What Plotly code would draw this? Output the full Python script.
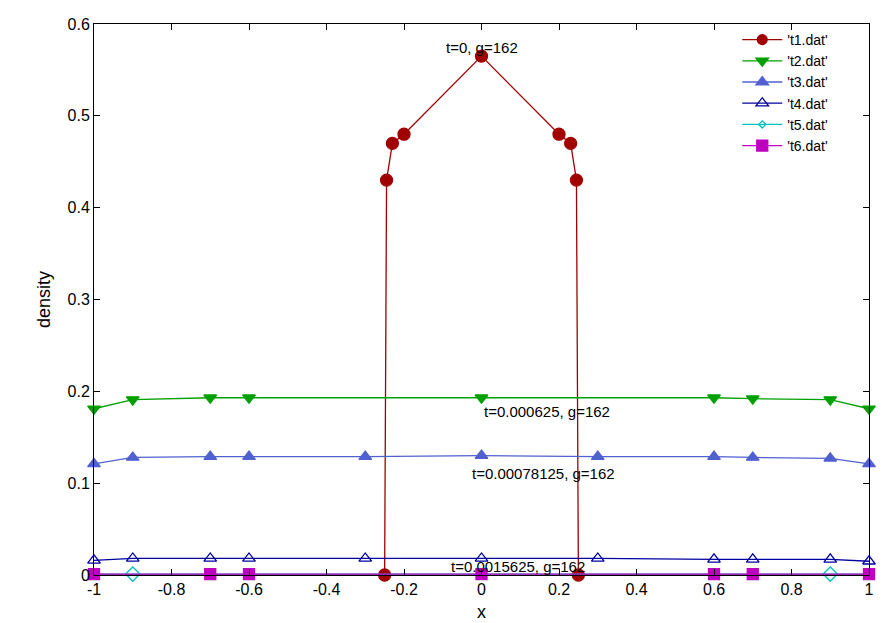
import plotly.graph_objects as go

t1_x = [-1, -0.25, -0.245, -0.23, -0.2, 0, 0.2, 0.23, 0.245, 0.25, 1]
t1_y = [0, 0, 0.43, 0.47, 0.48, 0.565, 0.48, 0.47, 0.43, 0, 0]
t1_m = [0, 1, 1, 1, 1, 1, 1, 1, 1, 1, 0]
t2_x = [-1, -0.9, -0.7, -0.6, 0, 0.6, 0.7, 0.9, 1]
t2_y = [0.181, 0.191, 0.193, 0.193, 0.193, 0.193, 0.192, 0.191, 0.181]
t3_x = [-1, -0.9, -0.7, -0.6, -0.3, 0, 0.3, 0.6, 0.7, 0.9, 1]
t3_y = [0.121, 0.128, 0.129, 0.129, 0.129, 0.130, 0.129, 0.129, 0.128, 0.127, 0.121]
t4_x = [-1, -0.9, -0.7, -0.6, -0.3, 0, 0.3, 0.6, 0.7, 0.9, 1]
t4_y = [0.016, 0.018, 0.018, 0.018, 0.018, 0.018, 0.018, 0.017, 0.017, 0.017, 0.015]
t5_x = [-1, -0.9, 0.9, 1]
t5_y = [0.001, 0.001, 0.001, 0.001]
t5_m = [0, 1, 1, 0]
t6_x = [-1, -0.7, -0.6, 0, 0.6, 0.7, 1]
t6_y = [0.001, 0.001, 0.001, 0.001, 0.001, 0.001, 0.001]

x_ticks = [-1, -0.8, -0.6, -0.4, -0.2, 0, 0.2, 0.4, 0.6, 0.8, 1]
x_tick_text = ["-1", "-0.8", "-0.6", "-0.4", "-0.2", "0", "0.2", "0.4", "0.6", "0.8", "1"]
y_ticks = [0, 0.1, 0.2, 0.3, 0.4, 0.5, 0.6]
y_tick_text = ["0", "0.1", "0.2", "0.3", "0.4", "0.5", "0.6"]

labels = ["t=0, g=162", "t=0.000625, g=162", "t=0.00078125, g=162", "t=0.0015625, g=162"]
label_x = [0, 0.17, 0.16, 0.094]
label_y = [0.574, 0.178, 0.110, 0.009]

fig = go.Figure()
def add(name, x, y, color, symbol, size=9, msk=None):
    sizes = [size * m for m in msk] if msk else size
    fig.add_trace(go.Scatter(x=x, y=y, name=name, mode="lines+markers", cliponaxis=False,
        line=dict(color=color, width=1.3),
        marker=dict(color=color, symbol=symbol, size=sizes, opacity=1,
                    line=dict(color=color, width=1.3))))

add("'t1.dat'", t1_x, t1_y, "#a00000", "circle", 12, t1_m)
add("'t2.dat'", t2_x, t2_y, "#00a000", "triangle-down", 11)
add("'t3.dat'", t3_x, t3_y, "#5060d0", "triangle-up", 11)
add("'t4.dat'", t4_x, t4_y, "#0000a0", "triangle-up-open", 11)
add("'t5.dat'", t5_x, t5_y, "#00c0c0", "diamond-open", 11, t5_m)
add("'t6.dat'", t6_x, t6_y, "#c000c0", "square", 11)

for t, x, y in zip(labels, label_x, label_y):
    fig.add_annotation(x=x, y=y, text=t, showarrow=False, font=dict(size=15, color="black"))

ax = dict(showgrid=False, zeroline=False, ticks="inside", mirror="allticks", showline=True,
          linecolor="black", linewidth=1, tickcolor="black", ticklen=6, automargin=False,
          tickfont=dict(size=16, color="black"))
fig.update_layout(
    width=890, height=623, plot_bgcolor="white", paper_bgcolor="white",
    font=dict(family="Liberation Sans, Arial", size=15, color="black"),
    margin=dict(l=86, r=29, t=16, b=56),
    xaxis=dict(range=[-1, 1], tickvals=x_ticks, ticktext=x_tick_text,
               title=dict(text="x", standoff=8), **ax),
    yaxis=dict(range=[0, 0.6], tickvals=y_ticks, ticktext=y_tick_text,
               title=dict(text="density", standoff=12), **ax),
    legend=dict(x=0.83, y=1, xanchor="left", yanchor="top", bgcolor="rgba(0,0,0,0)",
                font=dict(size=14), tracegroupgap=0, itemwidth=40),
)
fig.write_html("out.html")
